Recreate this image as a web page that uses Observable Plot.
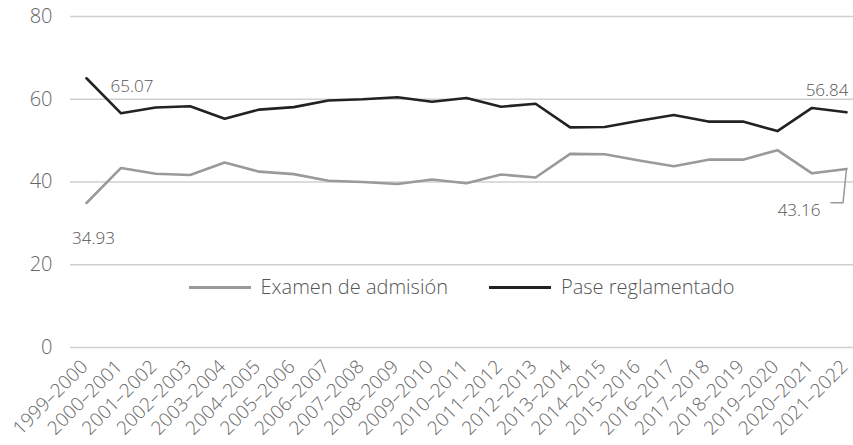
<!DOCTYPE html>
<html><head><meta charset="utf-8">
<script src="https://cdn.jsdelivr.net/npm/d3@7"></script>
<script src="https://cdn.jsdelivr.net/npm/@observablehq/plot@0.6"></script>
<style>
body{margin:0;background:#fff;font-family:"Open Sans",sans-serif;}
#wrap{position:relative;width:853px;height:445px;overflow:hidden;}
.legend{position:absolute;top:274px;left:70px;width:783px;display:flex;justify-content:center;gap:41px;font-size:20px;color:#555;font-weight:300;line-height:26px;}
.item{display:flex;align-items:center;gap:10px;}
.sw{display:inline-block;width:62px;height:3px;}
</style></head>
<body><div id="wrap"></div>
<script>
const periods = ["1999–2000","2000–2001","2001–2002","2002–2003","2003–2004","2004–2005","2005–2006","2006–2007","2007–2008","2008–2009","2009–2010","2010–2011","2011–2012","2012–2013","2013–2014","2014–2015","2015–2016","2016–2017","2017–2018","2018–2019","2019–2020","2020–2021","2021–2022"];
const examen = [34.93,43.4,42.0,41.7,44.7,42.5,41.9,40.3,40.0,39.5,40.6,39.7,41.8,41.1,46.8,46.7,45.2,43.8,45.4,45.4,47.7,42.1,43.16];
const pase = [65.07,56.6,58.0,58.3,55.3,57.5,58.1,59.7,60.0,60.5,59.4,60.3,58.2,58.9,53.2,53.3,54.8,56.2,54.6,54.6,52.3,57.9,56.84];
const seriesNames = ["Examen de admisión","Pase reglamentado"];
const colors = ["#9a9a9a","#222222"];
const yTicks = [0,20,40,60,80];

const rows = [];
periods.forEach((p,i)=>{
  rows.push({i, serie: seriesNames[0], v: examen[i]});
  rows.push({i, serie: seriesNames[1], v: pase[i]});
});
const last = periods.length-1;
const leader = [{x:last,y:examen[last]},{x:last-0.1,y:35},{x:last-0.45,y:35}];

const chart = Plot.plot({
  width:853, height:445,
  marginLeft:70, marginRight:0, marginTop:16, marginBottom:98,
  insetLeft:16, insetRight:7,
  style:{fontFamily:"'Open Sans', sans-serif", color:"#555", background:"#fff"},
  x:{type:"linear", domain:[0,last]},
  y:{domain:[0,80]},
  color:{domain:seriesNames, range:colors},
  marks:[
    Plot.gridY(yTicks,{stroke:"#cfcfcf", strokeOpacity:1, strokeWidth:1.3}),
    Plot.axisY(yTicks,{tickSize:0, tickPadding:18, fontSize:20, fill:"#666", fontWeight:300, label:null}),
    Plot.axisX(d3.range(periods.length),{tickFormat:i=>periods[i], tickRotate:-45, tickSize:0, tickPadding:16, dx:-2, fontSize:19, fill:"#666", fontWeight:300, label:null}),
    Plot.line(rows,{x:"i", y:"v", z:"serie", stroke:"serie", strokeWidth:2.6}),
    Plot.line(leader,{x:"x", y:"y", stroke:"#9a9a9a", strokeWidth:1.5}),
    Plot.text([{x:0,y:pase[0]}],{x:"x",y:"y",text:d=>d.y.toFixed(2),dx:24,dy:8,textAnchor:"start",fontSize:17,fill:"#555",fontWeight:300}),
    Plot.text([{x:0,y:examen[0]}],{x:"x",y:"y",text:d=>d.y.toFixed(2),dx:7,dy:36,textAnchor:"middle",fontSize:17,fill:"#555",fontWeight:300}),
    Plot.text([{x:last,y:pase[last]}],{x:"x",y:"y",text:d=>d.y.toFixed(2),dx:2,dy:-22,textAnchor:"end",fontSize:17,fill:"#555",fontWeight:300}),
    Plot.text([{x:last,y:examen[last]}],{x:"x",y:"y",text:d=>d.y.toFixed(2),dx:-26,dy:42,textAnchor:"end",fontSize:17,fill:"#555",fontWeight:300})
  ]
});
const wrap = document.getElementById("wrap");
wrap.appendChild(chart);
const lg = document.createElement("div");
lg.className = "legend";
seriesNames.forEach((n,k)=>{
  const it = document.createElement("span"); it.className="item";
  const sw = document.createElement("span"); sw.className="sw"; sw.style.background = colors[k];
  const t = document.createElement("span"); t.textContent = n;
  it.appendChild(sw); it.appendChild(t); lg.appendChild(it);
});
wrap.appendChild(lg);
</script></body></html>
